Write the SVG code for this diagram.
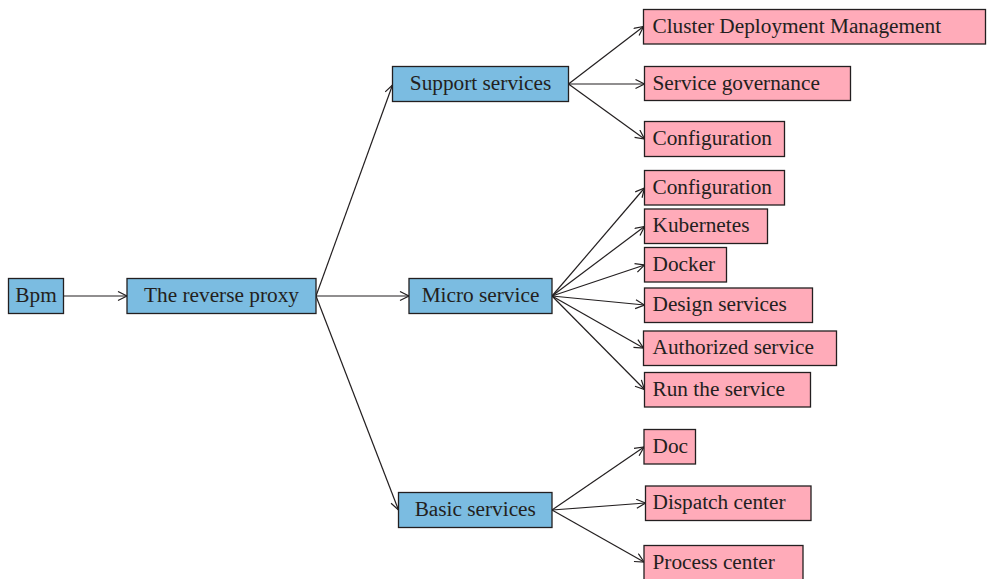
<svg xmlns="http://www.w3.org/2000/svg" width="987" height="579" viewBox="0 0 987 579">
<defs>
<style>
.b{fill:#7BBCE1;stroke:#231F20;stroke-width:1.3}
.p{fill:#FFABB9;stroke:#231F20;stroke-width:1.3}
text{font-family:"Liberation Serif","Times New Roman",serif;font-size:21.3px;fill:#231F20}
.c{text-anchor:middle}
.e{fill:none;stroke:#231F20;stroke-width:1.2;marker-end:url(#a)}
</style>
<marker id="a" markerUnits="userSpaceOnUse" markerWidth="12" markerHeight="12" viewBox="0 0 12 12" refX="10" refY="5" orient="auto">
<path d="M1,0.5 L10,5 L1,9.5" fill="none" stroke="#231F20" stroke-width="1.2"/>
</marker>
</defs>
<rect width="987" height="579" fill="#ffffff"/>
<g id="connectors">
<path class="e" d="M63.5,296 L127,296"/>
<path class="e" d="M316,296 L392.5,85"/>
<path class="e" d="M316,296 L409,296"/>
<path class="e" d="M316,296 L398.5,510"/>
<path class="e" d="M568.5,84 L643.5,26.5"/>
<path class="e" d="M568.5,84 L644.5,84"/>
<path class="e" d="M568.5,84 L644.5,139"/>
<path class="e" d="M552,296 L644.5,188"/>
<path class="e" d="M552,296 L644.5,226.5"/>
<path class="e" d="M552,296 L644.5,265"/>
<path class="e" d="M552,296 L644.5,305"/>
<path class="e" d="M552,296 L643.5,348"/>
<path class="e" d="M552,296 L644.5,389.5"/>
<path class="e" d="M552,510 L644,447"/>
<path class="e" d="M552,510 L645.5,503"/>
<path class="e" d="M552,510 L644,562"/>
</g>
<g id="bpm"><rect class="b" x="8.5" y="278.5" width="55" height="35"/><text class="c" x="36" y="302">Bpm</text></g>
<g id="reverse-proxy"><rect class="b" x="127" y="278.5" width="189" height="35"/><text class="c" x="221.5" y="302">The reverse proxy</text></g>
<g id="support-services"><rect class="b" x="392.5" y="66.5" width="176" height="35"/><text class="c" x="480.5" y="90">Support services</text></g>
<g id="micro-service"><rect class="b" x="409" y="278.5" width="143" height="35"/><text class="c" x="480.5" y="302">Micro service</text></g>
<g id="basic-services"><rect class="b" x="398.5" y="492.5" width="153.5" height="35"/><text class="c" x="475.25" y="516">Basic services</text></g>
<g id="cluster"><rect class="p" x="643.5" y="9.5" width="342" height="34.5"/><text x="652.5" y="32.5">Cluster Deployment Management</text></g>
<g id="service-governance"><rect class="p" x="644.5" y="66.5" width="206" height="34"/><text x="652.5" y="89.5">Service governance</text></g>
<g id="configuration-1"><rect class="p" x="644.5" y="121.5" width="140" height="35"/><text x="652.5" y="145">Configuration</text></g>
<g id="configuration-2"><rect class="p" x="644.5" y="170.5" width="140" height="34.5"/><text x="652.5" y="194">Configuration</text></g>
<g id="kubernetes"><rect class="p" x="644.5" y="209" width="123" height="34.5"/><text x="652.5" y="232">Kubernetes</text></g>
<g id="docker"><rect class="p" x="644.5" y="247.5" width="82" height="34.5"/><text x="652.5" y="271">Docker</text></g>
<g id="design-services"><rect class="p" x="644.5" y="288" width="168" height="34.5"/><text x="652.5" y="311">Design services</text></g>
<g id="authorized-service"><rect class="p" x="643.5" y="331" width="193" height="34.5"/><text x="652.5" y="354">Authorized service</text></g>
<g id="run-the-service"><rect class="p" x="644.5" y="372.5" width="166" height="34.5"/><text x="652.5" y="395.5">Run the service</text></g>
<g id="doc"><rect class="p" x="644" y="429.5" width="51.5" height="34.5"/><text x="652.5" y="452.5">Doc</text></g>
<g id="dispatch-center"><rect class="p" x="645.5" y="486" width="165.5" height="34.5"/><text x="652.5" y="509">Dispatch center</text></g>
<g id="process-center"><rect class="p" x="644" y="545.5" width="159" height="35"/><text x="652.5" y="569">Process center</text></g>
</svg>
